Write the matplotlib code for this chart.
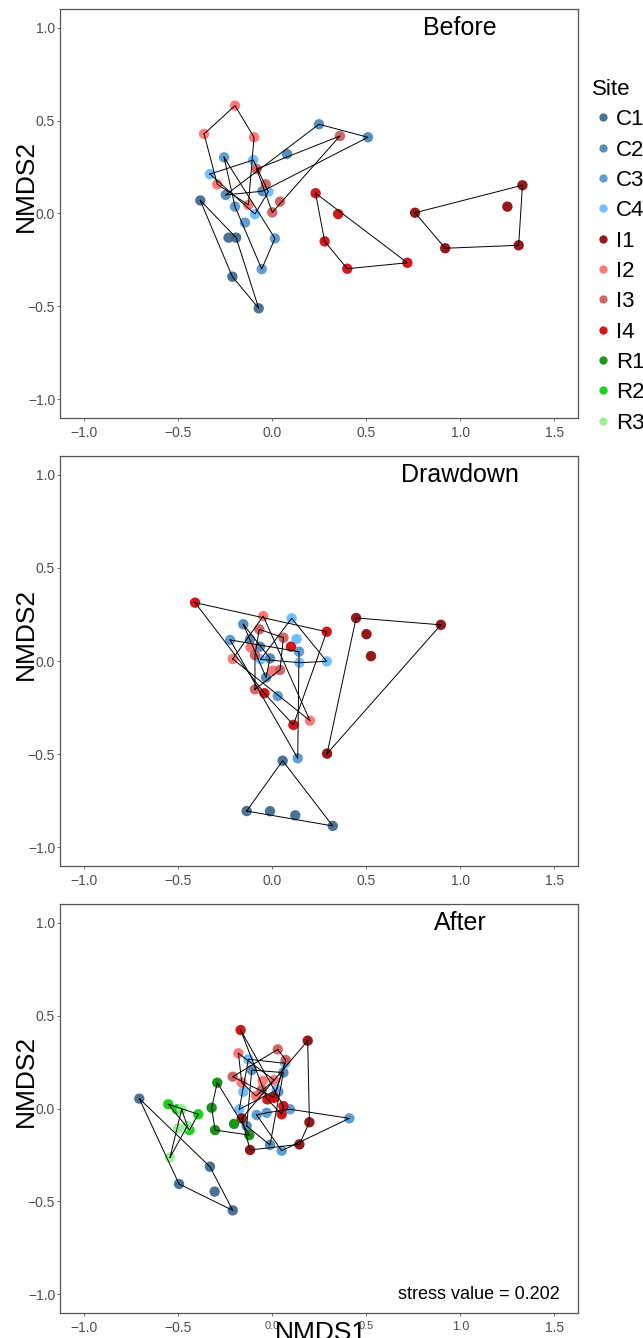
import matplotlib
matplotlib.use("Agg")
import matplotlib.pyplot as plt
from matplotlib.lines import Line2D

plt.rcParams['font.family'] = ['Liberation Sans', 'DejaVu Sans']

# ---------- Data ----------

site_order = ["C1", "C2", "C3", "C4", "I1", "I2", "I3", "I4", "R1", "R2", "R3"]
site_colors = ["#36648B", "#4682B4", "#4F94CD", "#63B8FF", "#8B0000", "#FF6A6A",
               "#CD5555", "#CD0000", "#008B00", "#00CD00", "#90EE90"]

panel_titles = ["Before", "Drawdown", "After"]

sites_before = (["C1"] * 5 + ["C2"] * 5 + ["C3"] * 5 + ["C4"] * 4
                + ["I1"] * 5 + ["I2"] * 5 + ["I3"] * 5 + ["I4"] * 5)
nmds1_before = [-0.38, -0.23, -0.19, -0.21, -0.07,
                0.25, 0.51, 0.08, -0.245, -0.05,
                -0.254, -0.196, -0.143, 0.016, -0.054,
                -0.099, -0.329, -0.019, -0.090,
                0.76, 0.92, 1.31, 1.33, 1.25,
                -0.196, -0.36, -0.095, -0.29, -0.125,
                -0.081, -0.033, 0.043, 0.002, 0.361,
                0.232, 0.352, 0.28, 0.40, 0.719]
nmds2_before = [0.07, -0.13, -0.13, -0.34, -0.51,
                0.48, 0.41, 0.32, 0.10, 0.12,
                0.302, 0.037, -0.049, -0.134, -0.299,
                0.288, 0.212, 0.117, -0.003,
                0.004, -0.187, -0.171, 0.152, 0.037,
                0.58, 0.428, 0.41, 0.157, 0.046,
                0.239, 0.157, 0.064, 0.006, 0.417,
                0.109, -0.003, -0.15, -0.297, -0.265]

sites_drawdown = (["C1"] * 5 + ["C2"] * 5 + ["C3"] * 4 + ["C4"] * 5
                  + ["I1"] * 5 + ["I2"] * 5 + ["I3"] * 5 + ["I4"] * 5)
nmds1_drawdown = [0.057, -0.134, -0.010, 0.124, 0.323,
                  -0.152, -0.116, -0.063, -0.010, -0.031,
                  -0.222, 0.144, 0.031, 0.137,
                  0.105, 0.131, 0.291, 0.146, -0.060,
                  0.447, 0.897, 0.502, 0.526, 0.293,
                  -0.046, -0.208, -0.113, 0.004, 0.202,
                  -0.067, 0.061, -0.090, 0.043, -0.090,
                  -0.408, 0.291, 0.101, 0.114, -0.040]
nmds2_drawdown = [-0.535, -0.805, -0.806, -0.828, -0.885,
                  0.197, 0.116, 0.077, 0.014, -0.088,
                  0.113, 0.050, -0.188, -0.522,
                  0.229, 0.118, -0.002, -0.009, 0.009,
                  0.231, 0.194, 0.144, 0.026, -0.497,
                  0.241, 0.011, 0.073, -0.052, -0.320,
                  0.170, 0.125, 0.032, -0.048, -0.152,
                  0.313, 0.157, 0.077, -0.343, -0.173]

sites_after = (["C1"] * 5 + ["C2"] * 5 + ["C3"] * 5 + ["C4"] * 5
               + ["I1"] * 5 + ["I2"] * 5 + ["I3"] * 5 + ["I4"] * 5
               + ["R1"] * 5 + ["R2"] * 4 + ["R3"] * 4)
nmds1_after = [-0.704, -0.329, -0.493, -0.304, -0.208,
               -0.107, 0.061, -0.134, -0.010, 0.034,
               -0.081, -0.028, 0.096, 0.411, 0.052,
               -0.125, -0.152, -0.173, 0.025, 0.070,
               0.190, 0.199, 0.146, -0.116, -0.160,
               -0.178, -0.160, -0.049, 0.011, -0.084,
               0.031, 0.073, -0.208, -0.054, 0.011,
               -0.166, -0.024, 0.011, 0.061, 0.052,
               -0.290, -0.320, -0.302, -0.201, -0.120,
               -0.550, -0.505, -0.391, -0.438,
               -0.479, -0.497, -0.541, -0.449]
nmds2_after = [0.053, -0.313, -0.406, -0.447, -0.548,
               0.207, 0.193, -0.094, -0.196, 0.090,
               -0.035, -0.023, -0.004, -0.053, -0.227,
               0.265, 0.090, -0.004, 0.100, 0.243,
               0.365, -0.074, -0.193, -0.223, -0.053,
               0.297, 0.139, 0.148, 0.153, 0.067,
               0.318, 0.261, 0.171, 0.100, 0.060,
               0.422, 0.049, 0.058, 0.013, -0.031,
               0.139, 0.004, -0.116, -0.083, -0.143,
               0.023, -0.004, -0.031, -0.116,
               -0.004, -0.107, -0.263, -0.094]

stress_value = 0.202
x_ticks = [-1.0, -0.5, 0.0, 0.5, 1.0, 1.5]
y_ticks = [-1.0, -0.5, 0.0, 0.5, 1.0]

# ---------- Helpers ----------

def convex_hull(pts):
    pts = sorted(set(pts))
    if len(pts) < 3:
        return pts

    def cross(o, a, b):
        return (a[0] - o[0]) * (b[1] - o[1]) - (a[1] - o[1]) * (b[0] - o[0])

    lower, upper = [], []
    for p in pts:
        while len(lower) >= 2 and cross(lower[-2], lower[-1], p) <= 0:
            lower.pop()
        lower.append(p)
    for p in reversed(pts):
        while len(upper) >= 2 and cross(upper[-2], upper[-1], p) <= 0:
            upper.pop()
        upper.append(p)
    return lower[:-1] + upper[:-1]


def draw_panel(ax, sites, xs, ys, title):
    color_of = dict(zip(site_order, site_colors))
    for site in site_order:
        px = [x for s, x in zip(sites, xs) if s == site]
        py = [y for s, y in zip(sites, ys) if s == site]
        if not px:
            continue
        ax.scatter(px, py, s=56, color=color_of[site], alpha=0.9,
                   edgecolors="none", zorder=2)
        hull = convex_hull(list(zip(px, py)))
        hx = [p[0] for p in hull] + [hull[0][0]]
        hy = [p[1] for p in hull] + [hull[0][1]]
        ax.plot(hx, hy, color="black", linewidth=0.7, zorder=3)

    ax.set_xlim(-1.125, 1.625)
    ax.set_ylim(-1.1, 1.1)
    ax.set_xticks(x_ticks)
    ax.set_yticks(y_ticks)
    ax.tick_params(colors="#4D4D4D", labelsize=10, length=2.5, width=0.6)
    ax.tick_params(axis="x", pad=3)
    ax.tick_params(axis="y", pad=1)
    for sp in ax.spines.values():
        sp.set_color("#555555")
        sp.set_linewidth(0.9)
    ax.text(1.0, 1.0, title, fontsize=18, ha="center", va="center")
    ax.text(-0.066, 0.567, "NMDS2", transform=ax.transAxes, rotation=90,
            fontsize=19, ha="center", va="center")

# ---------- Figure ----------

fig = plt.figure(figsize=(6.43, 13.38), dpi=100)
W, H = 643.0, 1338.0
left, right = 60 / W, 578 / W
panel_px = [(9, 418), (456, 866), (904, 1313)]
panel_data = [(sites_before, nmds1_before, nmds2_before),
              (sites_drawdown, nmds1_drawdown, nmds2_drawdown),
              (sites_after, nmds1_after, nmds2_after)]

axes = []
for (top, bot), (s, x, y), title in zip(panel_px, panel_data, panel_titles):
    ax = fig.add_axes([left, 1 - bot / H, right - left, (bot - top) / H])
    draw_panel(ax, s, x, y, title)
    axes.append(ax)

ax3 = axes[2]
ax3.text(1.1, -1.0, f"stress value = {stress_value}", fontsize=13,
         ha="center", va="center")
# the squeezed tick labels under the last panel
for lab in ax3.get_xticklabels():
    if lab.get_text() in ("0.0", "0.5"):
        lab.set_fontsize(8)
    elif lab.get_text() == "1.0":
        lab.set_fontsize(9)
fig.text(321 / W, 1 - 1321 / H, "NMDS1", fontsize=19, ha="center", va="top")

handles = [Line2D([], [], marker="o", linestyle="none", markersize=6,
                  markerfacecolor=c, markeredgecolor="none", alpha=0.9)
           for c in site_colors]
fig.legend(handles, site_order, title="Site", loc="upper left",
           bbox_to_anchor=(583 / W, 1 - 70 / H), frameon=False,
           fontsize=16, title_fontsize=16, labelspacing=0.42,
           handletextpad=0.1, handlelength=1.0, borderaxespad=0,
           alignment="left")

plt.savefig("out.png", dpi=100)
